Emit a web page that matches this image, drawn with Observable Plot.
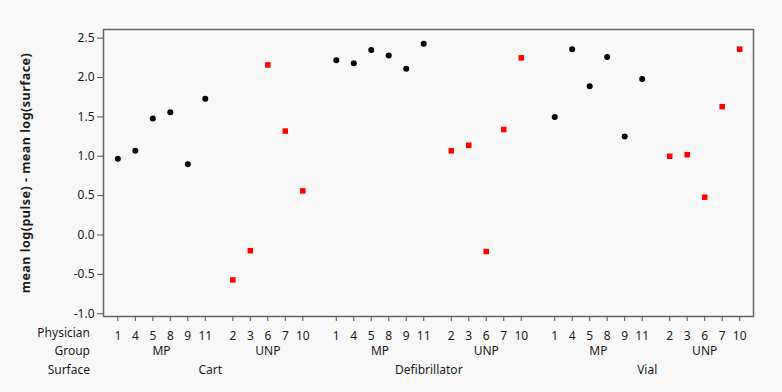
<!DOCTYPE html>
<html><head><meta charset="utf-8">
<script src="https://cdn.jsdelivr.net/npm/d3@7"></script>
<script src="https://cdn.jsdelivr.net/npm/@observablehq/plot@0.6"></script>
<style>
html,body{margin:0;padding:0;background:#f8f8f8;}
#chart svg{display:block;}
#chart g[aria-label="y-axis label"] text{font-weight:bold;font-size:12.5px;letter-spacing:0.5px;}
</style></head><body><div id="chart"></div>
<script>
const surfaces = ["Cart","Defibrillator","Vial"];
const groups = ["MP","UNP"];
const mpPhysicians = [1,4,5,8,9,11];
const unpPhysicians = [2,3,6,7,10];
const cartMP = [0.97,1.07,1.48,1.56,0.90,1.73];
const cartUNP = [-0.57,-0.20,2.16,1.32,0.56];
const defibMP = [2.22,2.18,2.35,2.28,2.11,2.43];
const defibUNP = [1.07,1.14,-0.21,1.34,2.25];
const vialMP = [1.50,2.36,1.89,2.26,1.25,1.98];
const vialUNP = [1.00,1.02,0.48,1.63,2.36];
const yTicks = [-1.0,-0.5,0,0.5,1.0,1.5,2.0,2.5];
const rowLabels = ["Physician","Group","Surface"];
const yTitle = "mean log(pulse) - mean log(surface)";

const values = {Cart:{MP:cartMP,UNP:cartUNP}, Defibrillator:{MP:defibMP,UNP:defibUNP}, Vial:{MP:vialMP,UNP:vialUNP}};
const physiciansOf = {MP: mpPhysicians, UNP: unpPhysicians};

// layout of nested categorical axis (gaps in units of one physician step)
const GROUP_GAP = 1.575, SURFACE_GAP = 1.914;
const rows = [], groupSpans = [], surfaceSpans = [];
let pos = null;
surfaces.forEach(s => {
  const sRows = [];
  groups.forEach((g, gi) => {
    const gRows = [];
    physiciansOf[g].forEach((p, i) => {
      if (pos === null) pos = 0;
      else if (i > 0) pos += 1;
      else pos += gi > 0 ? GROUP_GAP : SURFACE_GAP;
      const r = {surface: s, group: g, physician: p, x: pos, y: values[s][g][i]};
      rows.push(r); gRows.push(r); sRows.push(r);
    });
    groupSpans.push({group: g, x: (gRows[0].x + gRows[gRows.length-1].x) / 2});
  });
  surfaceSpans.push({surface: s, x: (sRows[0].x + sRows[sRows.length-1].x) / 2});
});
const labelAt = new Map(rows.map(d => [d.x, String(d.physician)]));
const xMax = rows[rows.length-1].x;

const chart = Plot.plot({
  width: 782, height: 392,
  marginLeft: 103, marginRight: 29, marginTop: 29, marginBottom: 76,
  style: {background: "#f8f8f8", fontFamily: "'Noto Sans', sans-serif", fontSize: "12px", color: "#1a1a1a"},
  x: {type: "linear", domain: [-0.82, xMax + 0.79]},
  y: {domain: [-1.035, 2.61]},
  symbol: {domain: groups, range: ["circle", "square"]},
  color: {domain: groups, range: ["#000000", "#ff0000"]},
  marks: [
    Plot.frame({stroke: "#666", strokeWidth: 1.5}),
    Plot.axisY({ticks: yTicks, tickFormat: d => d.toFixed(1), tickSize: 6, tickPadding: 3,
      stroke: "#555", label: yTitle, labelAnchor: "center", labelArrow: "none", labelOffset: 82}),
    Plot.axisX({ticks: rows.map(d => d.x), tickFormat: x => labelAt.get(x), tickSize: 5, tickPadding: 10.4,
      stroke: "#555", label: null}),
    Plot.text(groupSpans, {x: "x", text: "group", frameAnchor: "bottom", dy: 38.5}),
    Plot.text(surfaceSpans, {x: "x", text: "surface", frameAnchor: "bottom", dy: 57.5}),
    Plot.text([rowLabels[0]], {text: d => d, frameAnchor: "bottom-left", textAnchor: "end", dx: -13.5, dy: 20}),
    Plot.text([rowLabels[1]], {text: d => d, frameAnchor: "bottom-left", textAnchor: "end", dx: -13.5, dy: 38.5}),
    Plot.text([rowLabels[2]], {text: d => d, frameAnchor: "bottom-left", textAnchor: "end", dx: -13.5, dy: 57.5}),
    Plot.dot(rows, {x: "x", y: "y", symbol: "group", fill: "group", r: d => d.group === "MP" ? 4 : 4.3})
  ]
});
document.getElementById("chart").appendChild(chart);
</script></body></html>
